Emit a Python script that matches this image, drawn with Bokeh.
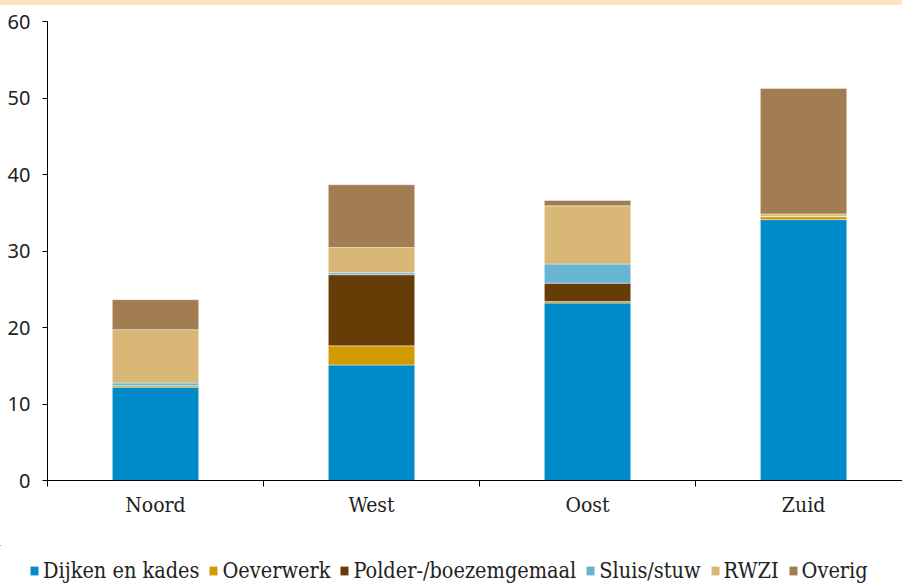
from bokeh.plotting import figure
from bokeh.models import Range1d, FixedTicker, Legend, LegendItem, Div, ColumnDataSource
from bokeh.layouts import column
from bokeh.embed import file_html
from bokeh.resources import INLINE

categories = ["Noord", "West", "Oost", "Zuid"]
series = ["Dijken en kades", "Oeverwerk", "Polder-/boezemgemaal", "Sluis/stuw", "RWZI", "Overig"]
dijken = [12.2, 15.1, 23.2, 34.1]
oeverwerk = [0.2, 2.5, 0.2, 0.4]
gemaal = [0.0, 9.3, 2.4, 0.0]
sluis = [0.35, 0.26, 2.5, 0.0]
rwzi = [6.97, 3.3, 7.6, 0.35]
overig = [3.92, 8.2, 0.7, 16.4]
y_ticks = [0, 10, 20, 30, 40, 50, 60]

colors = ["#008BC8", "#D29A00", "#673D07", "#67B4D5", "#D9B877", "#A27D52"]
keys = ["dijken", "oeverwerk", "gemaal", "sluis", "rwzi", "overig"]

xpos = [i + 0.5 for i in range(len(categories))]
source = ColumnDataSource(dict(x=xpos, dijken=dijken, oeverwerk=oeverwerk, gemaal=gemaal,
                               sluis=sluis, rwzi=rwzi, overig=overig))

SERIF = "DejaVu Serif Condensed"

p = figure(width=902, height=540, output_backend="svg", toolbar_location=None,
           x_range=Range1d(0, 3.958), y_range=Range1d(0, 60),
           min_border_left=47, min_border_right=0, min_border_top=16, min_border_bottom=65)
p.outline_line_color = None
p.xgrid.visible = False
p.ygrid.visible = False

renderers = p.vbar_stack(keys, x="x", width=0.4, source=source, color=colors,
                         line_color="white", line_width=0.6, line_alpha=0.7)

# y axis
p.yaxis.ticker = FixedTicker(ticks=y_ticks)
p.yaxis.major_tick_out = 5
p.yaxis.major_tick_in = 0
p.yaxis.minor_tick_out = 0
p.yaxis.minor_tick_in = 0
p.yaxis.major_label_standoff = 12
p.yaxis.major_label_text_font = "Noto Sans"
p.yaxis.major_label_text_font_size = "20px"
p.yaxis.major_label_text_color = "#222222"
p.yaxis.axis_line_color = "black"
p.yaxis.major_tick_line_color = "black"

# x axis: labels at centers, tick marks at category boundaries
p.xaxis.ticker = FixedTicker(ticks=xpos, minor_ticks=list(range(len(categories) + 1)))
p.xaxis.major_label_overrides = {x: c for x, c in zip(xpos, categories)}
p.xaxis.major_tick_out = 0
p.xaxis.major_tick_in = 0
p.xaxis.minor_tick_out = 6
p.xaxis.minor_tick_in = 0
p.xaxis.minor_tick_line_color = "black"
p.xaxis.major_label_standoff = 6
p.xaxis.major_label_text_font = SERIF
p.xaxis.major_label_text_font_size = "21px"
p.xaxis.major_label_text_color = "#222222"
p.xaxis.axis_line_color = "black"

# legend in its own strip below the chart (bars kept out of its view)
lg = figure(width=902, height=40, output_backend="svg", toolbar_location=None,
            x_range=Range1d(10, 11), y_range=Range1d(-2, -1),
            x_axis_location=None, y_axis_location=None,
            min_border_left=0, min_border_right=0, min_border_top=0, min_border_bottom=0)
lg.outline_line_color = None
lg.xgrid.visible = False
lg.ygrid.visible = False
lg_renderers = lg.vbar_stack(keys, x="x", width=0.4, source=source, color=colors, line_alpha=0)
items = [LegendItem(label=s, renderers=[r]) for s, r in zip(series, lg_renderers)]
legend = Legend(items=items, orientation="horizontal", location=(29, 2),
                padding=0, spacing=9, label_standoff=4, glyph_width=10, glyph_height=11,
                label_height=20, label_text_font=SERIF, label_text_font_size="21.5px",
                label_text_color="#222222", border_line_color=None,
                background_fill_alpha=0, margin=0)
lg.add_layout(legend, "center")

band = Div(width=902, height=5, styles={"background-color": "#FCE4BC", "margin": "0", "padding": "0"})
layout = column(band, p, spacing=0)

open("out.html", "w").write(file_html([layout, lg], INLINE))
